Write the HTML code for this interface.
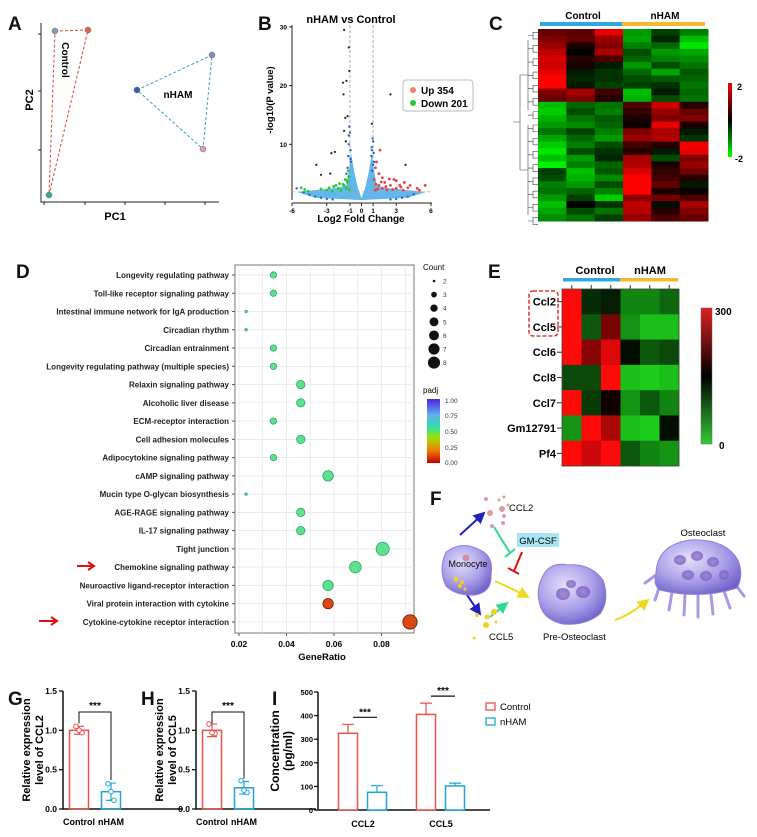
<!DOCTYPE html>
<html><head><meta charset="utf-8"><style>
html,body{margin:0;padding:0;background:#fff;}
svg{display:block;font-family:"Liberation Sans",Arial,sans-serif;}
</style></head><body>
<svg id="fig" width="757" height="837" viewBox="0 0 757 837" xmlns="http://www.w3.org/2000/svg">
<defs>
<radialGradient id="cellG" cx="40%" cy="35%" r="70%"><stop offset="0" stop-color="#e4e0fb"/><stop offset="0.6" stop-color="#a99ee8"/><stop offset="1" stop-color="#6f62c9"/></radialGradient>
<radialGradient id="nucG" cx="50%" cy="50%" r="50%"><stop offset="0" stop-color="#9a7fd0"/><stop offset="1" stop-color="#7a5fc0"/></radialGradient>
<linearGradient id="e-cbar" x1="0" y1="1" x2="0" y2="0"><stop offset="0" stop-color="#33cc33"/><stop offset="0.5" stop-color="#000"/><stop offset="1" stop-color="#e02020"/></linearGradient>
<linearGradient id="c-cbar" x1="0" y1="1" x2="0" y2="0"><stop offset="0" stop-color="#00ff00"/><stop offset="0.5" stop-color="#000"/><stop offset="1" stop-color="#ff0000"/></linearGradient>
<linearGradient id="padj-bar" x1="0" y1="1" x2="0" y2="0"><stop offset="0" stop-color="#c00000"/><stop offset="0.2" stop-color="#f08000"/><stop offset="0.4" stop-color="#a0e000"/><stop offset="0.55" stop-color="#30e0a0"/><stop offset="0.75" stop-color="#60b0f0"/><stop offset="1" stop-color="#5020e0"/></linearGradient>
<marker id="ah-b" markerWidth="6" markerHeight="6" refX="5" refY="3" orient="auto"><path d="M0,0L6,3L0,6z" fill="#2222bb"/></marker>
<marker id="ah-y" markerWidth="6" markerHeight="6" refX="5" refY="3" orient="auto"><path d="M0,0L6,3L0,6z" fill="#f0d820"/></marker>
<marker id="ah-g" markerWidth="6" markerHeight="6" refX="5" refY="3" orient="auto"><path d="M0,0L6,3L0,6z" fill="#30d890"/></marker>
</defs>

<g font-weight="bold" font-size="19" fill="#111">
<text x="8" y="30">A</text>
<text x="258" y="30">B</text>
<text x="489" y="30">C</text>
<text x="16" y="278">D</text>
<text x="488" y="278">E</text>
<text x="430" y="505">F</text>
<text x="8" y="705">G</text>
<text x="141" y="705">H</text>
<text x="272" y="705">I</text>
</g>

<g id="pA">
<path d="M41,23V202H219" fill="none" stroke="#222" stroke-width="1"/>
<g stroke="#222"><line x1="38" y1="34" x2="41" y2="34"/><line x1="38" y1="91" x2="41" y2="91"/><line x1="38" y1="150" x2="41" y2="150"/>
<line x1="44" y1="202" x2="44" y2="205"/><line x1="85" y1="202" x2="85" y2="205"/><line x1="125" y1="202" x2="125" y2="205"/><line x1="165" y1="202" x2="165" y2="205"/><line x1="205" y1="202" x2="205" y2="205"/></g>
<text x="115" y="220" text-anchor="middle" font-weight="bold" font-size="11">PC1</text>
<text transform="translate(33,100) rotate(-90)" text-anchor="middle" font-weight="bold" font-size="11">PC2</text>
<polygon points="55,31 88,30 49,195" fill="none" stroke="#d9473a" stroke-dasharray="3,2"/>
<polygon points="137,90 212,55 203,149" fill="none" stroke="#3aa0c0" stroke-dasharray="3,2"/>
<text transform="translate(62,60) rotate(90)" text-anchor="middle" font-weight="bold" font-size="10">Control</text>
<text x="178" y="98" text-anchor="middle" font-weight="bold" font-size="10">nHAM</text>
<g id="pcaPts"></g>
</g>

<g id="pB">
<text x="351" y="23" text-anchor="middle" font-weight="bold" font-size="11">nHAM vs Control</text>
<path d="M292,25V200" stroke="#222" fill="none"/>
<path d="M292,203H432" stroke="#222" fill="none"/>
<text transform="translate(273,100) rotate(-90)" text-anchor="middle" font-weight="bold" font-size="9.5">-log10(P value)</text>
<text x="361" y="222" text-anchor="middle" font-weight="bold" font-size="10">Log2 Fold Change</text>
<g id="volG"></g>
<rect x="403" y="80" width="70" height="31" rx="3" fill="#fff" stroke="#bbb"/>
<circle cx="413" cy="90" r="3" fill="#f08070"/><text x="421" y="94" font-weight="bold" font-size="10">Up 354</text>
<circle cx="413" cy="103" r="3" fill="#22cc33"/><text x="421" y="107" font-weight="bold" font-size="10">Down 201</text>
</g>

<g id="pC">
<rect x="540" y="22" width="82" height="4" fill="#2fa8e0"/>
<rect x="622" y="22" width="83" height="4" fill="#f5b830"/>
<text x="583" y="19" text-anchor="middle" font-weight="bold" font-size="10">Control</text>
<text x="665" y="19" text-anchor="middle" font-weight="bold" font-size="10">nHAM</text>
<g id="heatC"></g>
<g id="dendro" stroke="#444" stroke-width="0.6" fill="none"></g>
<rect x="728" y="83" width="4" height="74" fill="url(#c-cbar)"/>
<text x="737" y="90" font-weight="bold" font-size="9">2</text>
<text x="735" y="162" font-weight="bold" font-size="9">-2</text>
</g>

<g id="pD">
<rect x="235" y="265" width="179" height="368" fill="#fff" stroke="#777"/>
<g id="dotG"></g>
<text x="322" y="660" text-anchor="middle" font-weight="bold" font-size="9.5">GeneRatio</text>
<text x="423" y="270" font-size="8">Count</text>
<g id="cntLeg"></g>
<text x="423" y="393" font-size="8">padj</text>
<rect x="427" y="399" width="13" height="64" fill="url(#padj-bar)"/>
<g font-size="6.5" fill="#333">
<text x="445" y="403">1.00</text><text x="445" y="418">0.75</text><text x="445" y="434">0.50</text><text x="445" y="450">0.25</text><text x="445" y="465">0.00</text></g>
<path d="M77,566H93M88,562L94,566L88,570" stroke="#e01010" stroke-width="2" fill="none"/>
<path d="M39,621H56M51,617L57,621L51,625" stroke="#e01010" stroke-width="2" fill="none"/>
</g>

<g id="pE">
<rect x="563" y="278" width="57" height="3.5" fill="#2fa8e0"/>
<rect x="620" y="278" width="58" height="3.5" fill="#f5b830"/>
<text x="595" y="274" text-anchor="middle" font-weight="bold" font-size="11">Control</text>
<text x="650" y="274" text-anchor="middle" font-weight="bold" font-size="11">nHAM</text>
<g id="heatE"></g>
<rect x="529" y="291" width="29" height="45" rx="4" fill="none" stroke="#e01010" stroke-dasharray="4,2" stroke-width="1.3"/>
<rect x="701" y="308" width="11" height="136" fill="url(#e-cbar)" stroke="#666" stroke-width="0.5"/>
<text x="715" y="315" font-weight="bold" font-size="10">300</text>
<text x="719" y="449" font-weight="bold" font-size="10">0</text>
</g>

<g id="pF">
<g fill="#e09aa0">
<circle cx="486" cy="499" r="2"/><circle cx="490" cy="513" r="3"/><circle cx="492" cy="526" r="2"/><circle cx="499" cy="500" r="1.5"/><circle cx="502" cy="509" r="3"/><circle cx="503" cy="523" r="2"/><circle cx="504" cy="497" r="1.5"/><circle cx="504" cy="516" r="2"/><circle cx="508" cy="505" r="1.5"/></g>
<text x="509" y="511" font-size="9.5">CCL2</text>
<path d="M460,535L484,513" stroke="#2222bb" stroke-width="2" marker-end="url(#ah-b)"/>
<path d="M465,592L480,614" stroke="#2222bb" stroke-width="2" marker-end="url(#ah-b)"/>
<path d="M494,527L510,553M505,557L515,549" stroke="#30d890" stroke-width="2" fill="none"/>
<path d="M490,617L507,603" stroke="#30d890" stroke-width="2" marker-end="url(#ah-g)"/>
<rect x="517" y="533" width="42" height="14" fill="#a8e4f4"/>
<text x="538" y="544" text-anchor="middle" font-size="9.5">GM-CSF</text>
<path d="M522,552L514,571M508,568L519,574" stroke="#e01010" stroke-width="2" fill="none"/>
<path d="M495,581Q515,590 528,597" stroke="#f0d820" stroke-width="2" fill="none" marker-end="url(#ah-y)"/>
<path d="M615,620Q630,615 648,600" stroke="#f0d820" stroke-width="2" fill="none" marker-end="url(#ah-y)"/>
<path d="M446,552Q462,540 480,550Q494,556 491,575Q492,592 475,595Q456,596 446,586Q438,570 446,552Z" fill="url(#cellG)" stroke="#8c80dc"/>
<text x="468" y="567" text-anchor="middle" font-size="9">Monocyte</text>
<g fill="#f0d020"><circle cx="456" cy="579" r="2.5"/><circle cx="462" cy="582" r="2"/><circle cx="460" cy="586" r="2"/><circle cx="465" cy="589" r="1.5"/></g>
<circle cx="466" cy="558" r="3.5" fill="#d090a8"/>
<g fill="#f0d020"><circle cx="477" cy="615" r="2"/><circle cx="487" cy="617" r="2.5"/><circle cx="494" cy="612" r="3"/><circle cx="486" cy="625" r="3"/><circle cx="496" cy="622" r="1.5"/><circle cx="474" cy="638" r="1.5"/></g>
<text x="489" y="640" font-size="9.5">CCL5</text>
<path d="M541,580Q548,561 568,565Q590,563 603,580Q610,600 600,614Q585,626 563,624Q544,620 540,605Q536,592 541,580Z" fill="url(#cellG)" stroke="#8c80dc"/>
<g fill="url(#nucG)" opacity="0.8"><ellipse cx="563" cy="594" rx="7" ry="6"/><ellipse cx="583" cy="592" rx="7" ry="6"/><ellipse cx="571" cy="584" rx="5" ry="4"/></g>
<text x="543" y="640" font-size="9.5">Pre-Osteoclast</text>
<g stroke="#a59ae6" stroke-width="3" stroke-linecap="round">
<line x1="660" y1="585" x2="655" y2="600"/><line x1="672" y1="592" x2="669" y2="610"/><line x1="685" y1="595" x2="684" y2="615"/><line x1="698" y1="596" x2="698" y2="617"/><line x1="711" y1="595" x2="713" y2="614"/><line x1="724" y1="591" x2="730" y2="608"/><line x1="735" y1="584" x2="744" y2="596"/><line x1="656" y1="575" x2="645" y2="583"/></g>
<path d="M656,575Q656,545 690,540Q725,538 738,560Q744,575 737,588Q700,600 660,590Q653,585 656,575Z" fill="url(#cellG)" stroke="#8c80dc"/>
<g fill="url(#nucG)" opacity="0.8"><ellipse cx="680" cy="560" rx="6" ry="5"/><ellipse cx="697" cy="556" rx="6" ry="5"/><ellipse cx="713" cy="562" rx="6" ry="5"/><ellipse cx="688" cy="575" rx="6" ry="5"/><ellipse cx="706" cy="576" rx="6" ry="5"/><ellipse cx="724" cy="575" rx="5" ry="5"/></g>
<text x="703" y="536" text-anchor="middle" font-size="9.5">Osteoclast</text>
</g>

<g id="pG"></g>
<g id="pH"></g>
<g id="pI"></g>
</svg>

<script>
const pcaX = [55, 88, 49, 137, 212, 203];
const pcaY = [31, 30, 195, 90, 55, 149];
const pcaColors = ["#9098b0", "#e06040", "#30b080", "#3060b0", "#8090b8", "#e0a0a0"];

const volTicksX = [-6, -3, -1, 0, 1, 3, 6];
const volTicksY = [10, 20, 30];
const volCloudFC = [-5.6, -4, -3, -2, -1.3, -1.05, -0.9, -0.6, -0.3, 0, 0.3, 0.6, 0.9, 1.05, 1.3, 2, 3, 4, 5.6];
const volCloudP  = [1.9, 2.2, 2.4, 2.6, 3.0, 6.0, 8.5, 5.0, 2.5, 0.8, 2.5, 5.0, 8.5, 6.0, 3.0, 2.6, 2.4, 2.2, 1.9];
const volBlueFC = [-1.1,-1.05,-1.0,-1.15,-1.2,-1.3,-0.95,-1.1,-0.9,-0.95,0.9,1.0,0.85,1.1,0.95,1.0,0.92,1.05,0.88,-5.6,-5.0,-4.5,-4,-3.5,-3,-2.5,2.5,3,3.5,4,4.5];
const volBlueP  = [10,13,12,8,6,5,9,11.5,7,7.5,9,10.5,8,7,11,6.5,5.5,8.5,9.5,2.5,1.8,1.4,1.1,0.9,0.7,0.6,0.6,0.7,0.9,1.1,1.5];
const volBlackFC = [-1.5,-1.1,-1.05,-1.6,-1.3,-1.55,-1.2,-1.4,-1.5,-2.6,-2.3,-3.9,0.9,2.5,3.8,-3.5,-2.7,-1.35];
const volBlackP  = [29.5,26.5,22.5,20.5,20.8,18.5,14.8,14.5,12.3,8.5,8.7,6.5,13.5,18.5,6.5,4.8,5,10.5];
const volGreenFC = [-5.2,-4.9,-4.6,-2.5,-2,-1.5,-1.2,-1.1,-1.3,-1.8,-1.6,-2.2,-1.05,-3,-2.8,-1.4,-3.5,-2.4,-1.9,-1.15,-1.25];
const volGreenP  = [2.6,2.3,2.0,2.0,2.5,3,3.5,4.5,2.5,2.1,3.2,3,2.2,2.2,2.6,4,2.4,2.8,3.3,5.5,3.8];
const volRedFC = [1.2,1.5,1.8,2,2.2,2.5,3,3.3,3.6,4,4.8,5,5.5,1.2,1.5,1.3,1.6,1.1,2.8,1.8,2.4,3,3.7,4.2,1.4,2.1,2.7,1.25,1.7,3.4];
const volRedP  = [2.2,3,2.5,3.5,2.2,3,2.5,3,2.2,2.6,2.5,2.2,3,6,5,7,9,4,4,4.3,4.1,3.8,3.5,3,2.4,2.8,2.3,3.2,3.6,2.7];

const heatCRows = [
[0.8,0.7,1.8,-1.2,-0.5,-1.0],[1.0,0.8,1.2,-1.3,-0.3,-1.5],[1.2,0.2,1.0,-1.0,-0.8,-1.8],[1.5,0.0,1.3,-0.6,-1.2,-1.3],
[1.7,0.3,0.6,-0.8,-1.0,-1.1],[1.6,0.2,-0.2,-1.2,-0.6,-0.9],[1.8,-0.2,-0.4,-0.8,-1.3,-0.7],[2.0,-0.3,-0.4,-0.6,-0.7,-0.8],
[2.0,-0.2,-0.5,-0.5,-0.4,-0.9],[1.0,1.3,0.5,-1.5,-0.2,-0.8],[0.8,1.0,0.3,-1.4,-0.6,-0.9],
[-1.5,-0.8,-0.9,0.6,1.6,0.3],[-1.6,-0.6,-1.0,0.4,1.2,0.8],[-1.4,-0.9,-0.7,0.2,1.0,1.0],[-1.2,-1.1,-0.8,0.1,1.8,0.2],
[-0.9,-0.5,-1.0,1.0,1.3,-0.2],[-1.3,-0.8,-1.2,1.2,1.4,-0.4],[-1.6,-1.0,-0.6,0.5,0.3,1.9],[-1.8,-0.6,-0.4,0.3,-0.2,1.8],
[-1.5,-1.2,-0.3,1.3,-0.6,1.0],[-1.9,-1.0,-0.8,1.4,0.2,1.2],[-0.5,-1.5,-0.7,1.7,0.4,0.9],[-0.6,-1.4,-1.1,2.0,0.5,0.3],
[-1.0,-1.2,-0.6,2.0,0.8,-0.2],[-0.9,-0.8,-1.0,2.0,0.2,0.1],[-1.2,-0.5,-1.6,1.1,0.9,0.6],[-1.5,0.0,-0.4,1.5,-0.1,1.3],
[-1.3,-0.6,-0.9,1.4,0.3,1.0],[-1.1,-0.9,-0.5,1.2,0.6,0.8]];

const keggTerms = ["Longevity regulating pathway","Toll-like receptor signaling pathway","Intestinal immune network for IgA production","Circadian rhythm","Circadian entrainment","Longevity regulating pathway (multiple species)","Relaxin signaling pathway","Alcoholic liver disease","ECM-receptor interaction","Cell adhesion molecules","Adipocytokine signaling pathway","cAMP signaling pathway","Mucin type O-glycan biosynthesis","AGE-RAGE signaling pathway","IL-17 signaling pathway","Tight junction","Chemokine signaling pathway","Neuroactive ligand-receptor interaction","Viral protein interaction with cytokine","Cytokine-cytokine receptor interaction"];
const keggCount = [3,3,2,2,3,3,4,4,3,4,3,5,2,4,4,7,6,5,5,8];
const keggRatio = [0.0345,0.0345,0.023,0.023,0.0345,0.0345,0.046,0.046,0.0345,0.046,0.0345,0.0575,0.023,0.046,0.046,0.0805,0.069,0.0575,0.0575,0.092];
const keggPadj = [0.45,0.45,0.45,0.45,0.45,0.45,0.45,0.45,0.45,0.45,0.45,0.45,0.45,0.45,0.45,0.45,0.45,0.45,0.05,0.03];
const keggTicks = [0.02,0.04,0.06,0.08];
const countLegend = [2,3,4,5,6,7,8];

const geneNames = ["Ccl2","Ccl5","Ccl6","Ccl8","Ccl7","Gm12791","Pf4"];
const geneExpr = [
[300,120,130,60,60,80],[300,90,220,50,20,20],[300,230,280,140,90,100],[100,100,300,20,10,20],
[300,110,160,50,90,60],[50,300,250,20,10,140],[300,270,300,90,60,50]];

const qpcrGroups = ["Control","nHAM"];
const ccl2Means = [1.0, 0.22];
const ccl2SD = [0.05, 0.11];
const ccl2Pts = [[1.05,0.97,1.0],[0.32,0.11,0.22]];
const ccl5Means = [1.0, 0.27];
const ccl5SD = [0.08, 0.08];
const ccl5Pts = [[1.08,0.96,0.97],[0.36,0.21,0.24]];
const qpcrTicks = [0, 0.5, 1.0, 1.5];
const elisaCats = ["CCL2","CCL5"];
const elisaControl = [325, 405];
const elisaControlSD = [38, 48];
const elisaNham = [75, 102];
const elisaNhamSD = [28, 12];
const elisaTicks = [0,100,200,300,400,500];

const NS = "http://www.w3.org/2000/svg";
function mk(parent, tag, attrs, text) {
  const e = document.createElementNS(NS, tag);
  for (const k in attrs) e.setAttribute(k, attrs[k]);
  if (text !== undefined) e.textContent = text;
  parent.appendChild(e);
  return e;
}
const $ = id => document.getElementById(id);

for (let i = 0; i < pcaX.length; i++) {
  const c = mk($("pcaPts"), "circle", {cx: pcaX[i], cy: pcaY[i], r: 3, fill: pcaColors[i], stroke: "#667", "stroke-width": 0.5});
  
  
}

const vx = v => 361.5 + v * 11.58;
const vy = p => 203 - p * 5.87;
const vg = $("volG");
volTicksX.forEach(t => {
  mk(vg, "line", {x1: vx(t), x2: vx(t), y1: 203, y2: 206, stroke: "#222"});
  const tx = mk(vg, "text", {x: vx(t), y: 213, "text-anchor": "middle", "font-size": 6.5, "font-weight": "bold"}, String(t));
  
  
});
volTicksY.forEach(t => {
  mk(vg, "line", {x1: 289, x2: 292, y1: vy(t), y2: vy(t), stroke: "#222"});
  const tx = mk(vg, "text", {x: 287, y: vy(t) + 2.5, "text-anchor": "end", "font-size": 6.5, "font-weight": "bold"}, String(t));
  
  
});
let cloud = "";
volCloudFC.forEach((f, i) => { cloud += (i ? "L" : "M") + vx(f) + "," + vy(volCloudP[i]); });
cloud += "L" + vx(4) + "," + vy(0.9) + "L" + vx(0) + "," + vy(0.5) + "L" + vx(-4) + "," + vy(0.9) + "Z";
const cl = mk(vg, "path", {d: cloud, fill: "#5fb8ec"});


[-1, 1].forEach(t => {
  const l = mk(vg, "line", {x1: vx(t), x2: vx(t), y1: 25, y2: 200, stroke: "#999", "stroke-dasharray": "3,2", "stroke-width": 0.8});
  
  
});
const hl = mk(vg, "line", {x1: 292, x2: 432, y1: vy(1.9), y2: vy(1.9), stroke: "#c9a", "stroke-dasharray": "3,2", "stroke-width": 0.8});


function volPts(fc, p, col, r, name) {
  fc.forEach((f, i) => {
    const c = mk(vg, "circle", {cx: vx(f), cy: vy(p[i]), r: r, fill: col});
    
    
  });
}
volPts(volBlueFC, volBlueP, "#2a60c8", 1.2, "volcano-ns-point");
volPts(volGreenFC, volGreenP, "#22cc33", 1.4, "volcano-down-point");
volPts(volRedFC, volRedP, "#e84040", 1.4, "volcano-up-point");
volPts(volBlackFC, volBlackP, "#222", 1.1, "volcano-label-point");

function divColor(v) {
  const t = Math.max(-1, Math.min(1, v / 2));
  if (t >= 0) return "rgb(" + Math.round(255 * t) + ",0,0)";
  return "rgb(0," + Math.round(255 * -t) + ",0)";
}
const cx0 = 538, cw = (708 - 538) / 6, cy0 = 29, ch = (221 - 29) / heatCRows.length;
heatCRows.forEach((row, r) => row.forEach((v, c) => {
  const e = mk($("heatC"), "rect", {x: cx0 + c * cw, y: cy0 + r * ch, width: cw + 0.5, height: ch + 0.5, fill: divColor(v)});
  
  
}));
(function () {
  const d = $("dendro");
  let p = "";
  for (let r = 0; r < heatCRows.length; r += 2) {
    const y1 = cy0 + r * ch + ch / 2, y2 = y1 + ch;
    p += "M538," + y1 + "H533V" + y2 + "H538M533," + ((y1 + y2) / 2) + "H528";
  }
  p += "M528,40V110M528,125V215M528,75H520M528,170H520M520,75V170M520,122H513";
  mk(d, "path", {d: p});
})();

const dx = r => 239 + (r - 0.02) / 0.02 * 47.5;
const dy = i => 275 + i * 18.26;
const dotR = n => [0, 0, 1.2, 3.2, 4.2, 5.2, 5.8, 6.6, 7.2][n];
function padjColor(p) {
  if (p < 0.1) return "#d84a12";
  return "#5ee08e";
}
const dg = $("dotG");
for (let x = 239 - 23.75; x < 414; x += 23.75) if (x > 235) mk(dg, "line", {x1: x, x2: x, y1: 265, y2: 633, stroke: "#e4e4e4", "stroke-width": 0.7});
keggTerms.forEach((t, i) => {
  mk(dg, "line", {x1: 235, x2: 414, y1: dy(i), y2: dy(i), stroke: "#e4e4e4", "stroke-width": 0.7});
  mk(dg, "line", {x1: 232, x2: 235, y1: dy(i), y2: dy(i), stroke: "#555"});
  const lab = mk(dg, "text", {x: 229, y: dy(i) + 3, "text-anchor": "end", "font-size": 8, "font-weight": "bold", fill: "#222"}, t);
  
  
});
keggTicks.forEach(t => {
  mk(dg, "line", {x1: dx(t), x2: dx(t), y1: 633, y2: 636, stroke: "#555"});
  const tx = mk(dg, "text", {x: dx(t), y: 647, "text-anchor": "middle", "font-size": 8.5, "font-weight": "bold"}, t.toFixed(2));
  
  
});
keggTerms.forEach((t, i) => {
  const col = padjColor(keggPadj[i]);
  const c = mk(dg, "circle", {cx: dx(keggRatio[i]), cy: dy(i), r: dotR(keggCount[i]), fill: col, stroke: keggPadj[i] < 0.1 ? "#6a1a00" : "#2aa866", "stroke-width": 0.8});
  
  
});
countLegend.forEach((n, i) => {
  const y = 281 + i * 13.6;
  const c = mk($("cntLeg"), "circle", {cx: 434, cy: y, r: n === 2 ? 1.3 : dotR(n) * 0.8 + 0.3, fill: "#111"});
  
  
  mk($("cntLeg"), "text", {x: 443, y: y + 2.5, "font-size": 6.5, fill: "#333"}, String(n));
});

function eColor(v) {
  const t = v / 300;
  if (t >= 0.5) { const k = (t - 0.5) / 0.5; return "rgb(" + Math.round(255 * k) + "," + Math.round(10 * k) + "," + Math.round(10 * k) + ")"; }
  const k = (0.5 - t) / 0.5; return "rgb(" + Math.round(30 * k) + "," + Math.round(220 * k) + "," + Math.round(30 * k) + ")";
}
const ex0 = 562, ew = (679 - 562) / 6, ey0 = 289, eh = (466 - 289) / 7;
for (let c = 0; c < 6; c++) mk($("heatE"), "line", {x1: ex0 + (c + 0.5) * ew, x2: ex0 + (c + 0.5) * ew, y1: 285, y2: 289, stroke: "#333"});
geneNames.forEach((g, r) => {
  geneExpr[r].forEach((v, c) => {
    const e = mk($("heatE"), "rect", {x: ex0 + c * ew, y: ey0 + r * eh, width: ew + 0.3, height: eh + 0.3, fill: eColor(v)});
    
    
  });
  mk($("heatE"), "line", {x1: 557, x2: 562, y1: ey0 + (r + 0.5) * eh, y2: ey0 + (r + 0.5) * eh, stroke: "#333"});
  const t = mk($("heatE"), "text", {x: 556, y: ey0 + (r + 0.5) * eh + 4, "text-anchor": "end", "font-size": 11, "font-weight": "bold"}, g);
  
  
});
mk($("heatE"), "rect", {x: ex0, y: ey0, width: 117, height: 177, fill: "none", stroke: "#444", "stroke-width": 0.8});

const RED = "#e8514c", BLUE = "#1da6d6";
function qpcr(gid, ax, means, sds, pts, ylab) {
  const g = $(gid);
  const y = v => 809 - v / 1.5 * 118;
  mk(g, "path", {d: "M" + ax + ",691V809H" + (ax + 120), stroke: "#111", "stroke-width": 1.5, fill: "none"});
  qpcrTicks.forEach(t => {
    mk(g, "line", {x1: ax - 4, x2: ax, y1: y(t), y2: y(t), stroke: "#111", "stroke-width": 1.3});
    const tx = mk(g, "text", {x: ax - 6, y: y(t) + 3, "text-anchor": "end", "font-size": 8.5, "font-weight": "bold"}, t.toFixed(1));
    
    
  });
  const yl = mk(g, "text", {transform: "translate(" + (ax - 33) + ",750) rotate(-90)", "text-anchor": "middle", "font-size": 11, "font-weight": "bold"});
  
  
  mk(yl, "tspan", {x: 0, dy: 0}, "Relative expression");
  mk(yl, "tspan", {x: 0, dy: 13}, ylab);
  const xs = [ax + 16, ax + 48];
  means.forEach((m, i) => {
    const col = i ? BLUE : RED;
    const b = mk(g, "rect", {x: xs[i] - 9.5, y: y(m), width: 19, height: 809 - y(m), fill: "none", stroke: col, "stroke-width": 1.5});
    
    
    mk(g, "path", {d: "M" + xs[i] + "," + y(m - sds[i]) + "V" + y(m + sds[i]) + "M" + (xs[i] - 5) + "," + y(m + sds[i]) + "H" + (xs[i] + 5) + "M" + (xs[i] - 5) + "," + y(m - sds[i]) + "H" + (xs[i] + 5), stroke: col, "stroke-width": 1.2, fill: "none"});
    pts[i].forEach((p, k) => {
      const c = mk(g, "circle", {cx: xs[i] + [-3, 3, 0][k], cy: y(p), r: 2.3, fill: "#fff", stroke: col, "stroke-width": 1});
      
      
    });
    const t = mk(g, "text", {x: xs[i], y: 825, "text-anchor": "middle", "font-size": 9, "font-weight": "bold"}, qpcrGroups[i]);
    
    
  });
  mk(g, "path", {d: "M" + xs[0] + "," + (y(means[0]) - 7) + "V712H" + xs[1] + "V" + (y(means[1] + sds[1]) - 3), stroke: "#111", "stroke-width": 1, fill: "none"});
  const s = mk(g, "text", {x: (xs[0] + xs[1]) / 2, y: 709, "text-anchor": "middle", "font-size": 10, "font-weight": "bold"}, "***");
  
  
}
qpcr("pG", 63, ccl2Means, ccl2SD, ccl2Pts, "level of CCL2");
qpcr("pH", 196, ccl5Means, ccl5SD, ccl5Pts, "level of CCL5");

(function () {
  const g = $("pI");
  const y = v => 810 - v / 500 * 118;
  mk(g, "path", {d: "M318,692V810H490", stroke: "#111", "stroke-width": 1.5, fill: "none"});
  elisaTicks.forEach(t => {
    mk(g, "line", {x1: 314, x2: 318, y1: y(t), y2: y(t), stroke: "#111", "stroke-width": 1.3});
    const tx = mk(g, "text", {x: 313, y: y(t) + 3, "text-anchor": "end", "font-size": 7.5, "font-weight": "bold"}, String(t));
    
    
  });
  const yl = mk(g, "text", {transform: "translate(279,751) rotate(-90)", "text-anchor": "middle", "font-size": 12, "font-weight": "bold"});
  
  
  mk(yl, "tspan", {x: 0, dy: 0}, "Concentration");
  mk(yl, "tspan", {x: 0, dy: 13}, "(pg/ml)");
  const centers = [363, 441];
  elisaCats.forEach((cat, i) => {
    const groups = [[elisaControl[i], elisaControlSD[i], RED, centers[i] - 15], [elisaNham[i], elisaNhamSD[i], BLUE, centers[i] + 14]];
    groups.forEach(([m, sd, col, x], k) => {
      mk(g, "path", {d: "M" + x + "," + y(m) + "V" + y(m + sd) + "M" + (x - 6) + "," + y(m + sd) + "H" + (x + 6), stroke: col, "stroke-width": 1.2, fill: "none"});
      const b = mk(g, "rect", {x: x - 9.5, y: y(m), width: 19, height: 810 - y(m), fill: "#fff", stroke: col, "stroke-width": 1.5});
      
      
    });
    const t = mk(g, "text", {x: centers[i], y: 827, "text-anchor": "middle", "font-size": 9, "font-weight": "bold"}, cat);
    
    
    const sy = y(elisaControl[i] + elisaControlSD[i]) - 7;
    mk(g, "line", {x1: centers[i] - 10, x2: centers[i] + 14, y1: sy, y2: sy, stroke: "#111", "stroke-width": 1.2});
    const s = mk(g, "text", {x: centers[i] + 2, y: sy - 2, "text-anchor": "middle", "font-size": 10, "font-weight": "bold"}, "***");
    
    
  });
  const l1 = mk(g, "rect", {x: 486, y: 703, width: 9, height: 7, fill: "none", stroke: RED, "stroke-width": 1.3});
  
  
  mk(g, "text", {x: 500, y: 710, "font-size": 9.5}, "Control");
  const l2 = mk(g, "rect", {x: 486, y: 718, width: 9, height: 7, fill: "none", stroke: BLUE, "stroke-width": 1.3});
  
  
  mk(g, "text", {x: 500, y: 725, "font-size": 9.5}, "nHAM");
})();
</script>
</body></html>
